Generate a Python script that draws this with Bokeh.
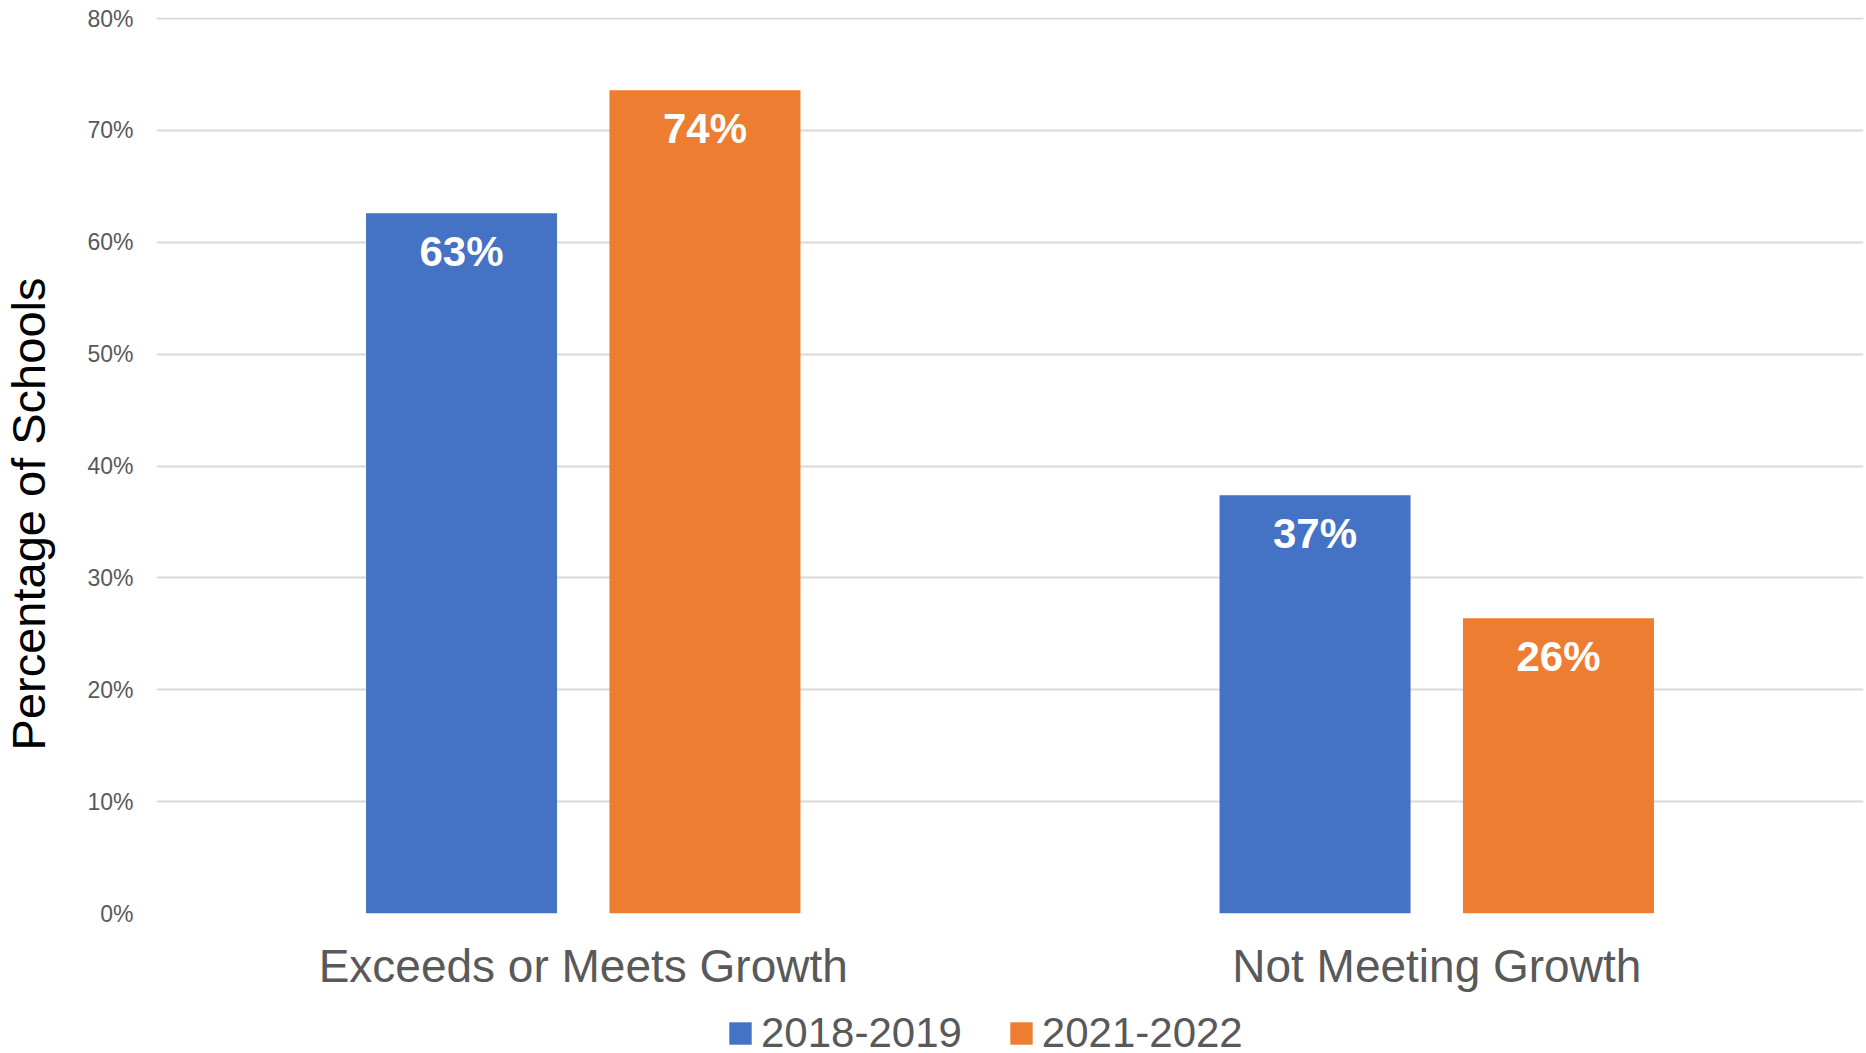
import math
from bokeh.plotting import figure
from bokeh.layouts import column, row
from bokeh.models import (FactorRange, Range1d, FixedTicker, PrintfTickFormatter, Label,
                          Legend, LegendItem, ColumnDataSource)
from bokeh.transform import dodge
from bokeh.core.properties import value
from bokeh.embed import file_html
from bokeh.resources import INLINE

categories = ["Exceeds or Meets Growth", "Not Meeting Growth"]
series_names = ["2018-2019", "2021-2022"]
values_2018_2019 = [62.6, 37.4]
values_2021_2022 = [73.6, 26.4]
y_ticks = [0, 10, 20, 30, 40, 50, 60, 70, 80]
y_title = "Percentage of Schools"

BLUE = "#4472C4"
ORANGE = "#ED7D31"
FONT = "Liberation Sans"

src = ColumnDataSource(dict(
    cat=categories,
    a=values_2018_2019,
    b=values_2021_2022,
    a_lbl=[f"{round(v)}%" for v in values_2018_2019],
    b_lbl=[f"{round(v)}%" for v in values_2021_2022],
))

LW = 64  # width of the strip that carries the y-axis title

xr = FactorRange(*categories, range_padding=0)
p = figure(x_range=xr, y_range=Range1d(0, 80.1),
           width=1866 - LW, height=995, output_backend="svg", toolbar_location=None,
           min_border_left=156 - LW, min_border_right=3, min_border_top=17, min_border_bottom=82)
p.outline_line_color = None
p.background_fill_color = "white"
p.border_fill_color = "white"

OFF = 0.1426
W = 0.2238
p.vbar(x=dodge("cat", -OFF, range=xr), top="a", width=W, source=src,
       fill_color=BLUE, line_color=None)
p.vbar(x=dodge("cat", OFF, range=xr), top="b", width=W, source=src,
       fill_color=ORANGE, line_color=None)

for col, lbl, off in (("a", "a_lbl", -OFF), ("b", "b_lbl", OFF)):
    p.text(x=dodge("cat", off, range=xr), y=col, text=lbl, source=src,
           text_font=value(FONT), text_font_style="bold", text_font_size="42px",
           text_color="white", text_align="center", text_baseline="middle", y_offset=38)

# axes
p.yaxis.ticker = FixedTicker(ticks=y_ticks)
p.yaxis.formatter = PrintfTickFormatter(format="%d%%")
p.yaxis.axis_line_color = None
p.yaxis.major_tick_line_color = None
p.yaxis.minor_tick_line_color = None
p.yaxis.major_tick_out = 0
p.yaxis.major_tick_in = 0
p.yaxis.major_label_standoff = 23
p.yaxis.major_label_text_font = FONT
p.yaxis.major_label_text_font_size = "23px"
p.yaxis.major_label_text_color = "#595959"

p.xaxis.axis_line_color = None
p.xaxis.major_tick_line_color = None
p.xaxis.minor_tick_line_color = None
p.xaxis.major_tick_out = 0
p.xaxis.major_tick_in = 0
p.xaxis.major_label_standoff = 26
p.xaxis.major_label_text_font = FONT
p.xaxis.major_label_text_font_size = "46px"
p.xaxis.major_label_text_color = "#595959"

p.xgrid.grid_line_color = None
p.ygrid.grid_line_color = "#D9D9D9"
p.ygrid.grid_line_width = 2

# y-axis title strip
tf = figure(width=LW, height=1053, output_backend="svg", toolbar_location=None,
            x_range=Range1d(0, 1), y_range=Range1d(0, 1),
            x_axis_location=None, y_axis_location=None,
            min_border_left=0, min_border_right=0, min_border_top=17, min_border_bottom=140)
tf.outline_line_color = None
tf.xgrid.visible = False
tf.ygrid.visible = False
tf.add_layout(Label(x=28, y=399.5, x_units="screen", y_units="screen", text=y_title,
                    angle=math.pi / 2, text_align="center", text_baseline="alphabetic",
                    text_font=FONT, text_font_size="47px", text_color="black"))

# legend strip (its swatch renderers share the data but lie below the visible range)
lg = figure(width=1866 - LW, height=58, output_backend="svg", toolbar_location=None,
            x_range=xr, y_range=Range1d(100, 101),
            x_axis_location=None, y_axis_location=None,
            min_border_left=156 - LW, min_border_right=3, min_border_top=0, min_border_bottom=0)
lg.outline_line_color = None
lg.xgrid.visible = False
lg.ygrid.visible = False
sw1 = lg.vbar(x=dodge("cat", -OFF, range=xr), top="a", width=W, source=src,
              fill_color=BLUE, line_color=None)
sw2 = lg.vbar(x=dodge("cat", OFF, range=xr), top="b", width=W, source=src,
              fill_color=ORANGE, line_color=None)

legend = Legend(items=[LegendItem(label=series_names[0], renderers=[sw1]),
                       LegendItem(label=series_names[1], renderers=[sw2])],
                orientation="horizontal", location=(570, -4),
                label_text_font=FONT, label_text_font_size="42px", label_text_color="#595959",
                glyph_width=28, glyph_height=28, label_standoff=7, spacing=45,
                padding=0, margin=0, border_line_color=None, background_fill_alpha=0)
lg.add_layout(legend, "center")

layout = row(tf, column(p, lg, spacing=0), spacing=0)
open("out.html", "w").write(file_html(layout, INLINE))
